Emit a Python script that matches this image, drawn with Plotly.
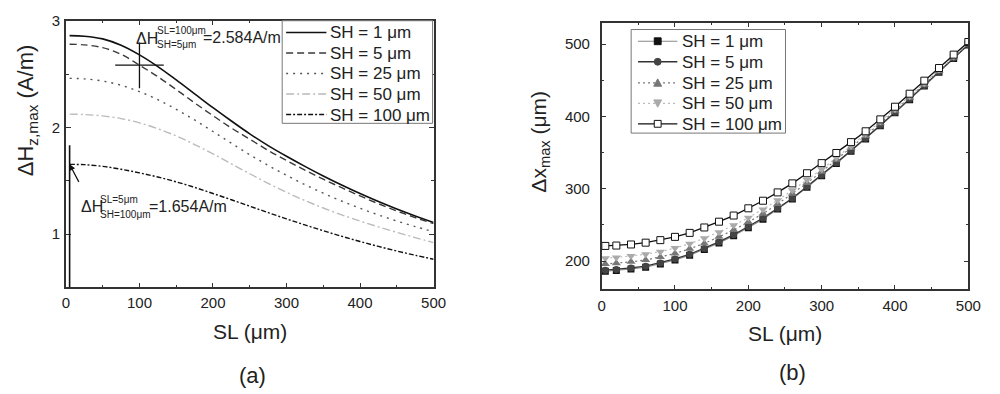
import plotly.graph_objects as go

FONT = "Liberation Sans, Arial, sans-serif"

# ---------------- Panel (a) data ----------------
sl_a = [5, 25, 50, 75, 100, 125, 150, 175, 200, 225, 250, 275, 300, 325, 350, 375, 400, 425, 450, 475, 500]
hz_sh1 = [2.86, 2.855, 2.83, 2.77, 2.68, 2.57, 2.445, 2.315, 2.185, 2.06, 1.94, 1.83, 1.73, 1.635, 1.545, 1.46, 1.38, 1.305, 1.235, 1.17, 1.11]
hz_sh5 = [2.78, 2.774, 2.748, 2.685, 2.584, 2.475, 2.355, 2.23, 2.11, 1.995, 1.89, 1.785, 1.69, 1.60, 1.515, 1.435, 1.358, 1.285, 1.217, 1.155, 1.098]
hz_sh25 = [2.46, 2.455, 2.435, 2.395, 2.335, 2.26, 2.17, 2.07, 1.962, 1.852, 1.744, 1.644, 1.551, 1.464, 1.384, 1.31, 1.242, 1.18, 1.123, 1.071, 1.023]
hz_sh50 = [2.125, 2.121, 2.108, 2.083, 2.043, 1.988, 1.92, 1.84, 1.752, 1.659, 1.566, 1.476, 1.392, 1.315, 1.245, 1.181, 1.122, 1.068, 1.017, 0.968, 0.92]
hz_sh100 = [1.654, 1.651, 1.635, 1.608, 1.574, 1.535, 1.49, 1.438, 1.381, 1.322, 1.262, 1.202, 1.143, 1.086, 1.032, 0.98, 0.931, 0.885, 0.842, 0.802, 0.765]

# ---------------- Panel (b) data ----------------
sl_b = [5, 20, 40, 60, 80, 100, 120, 140, 160, 180, 200, 220, 240, 260, 280, 300, 320, 340, 360, 380, 400, 420, 440, 460, 480, 500]
dx_sh1 = [186, 187, 189, 191.5, 196, 201.5, 208, 216, 225, 235, 246, 258, 272, 286, 302, 318, 335, 352, 369, 387, 405, 423, 442, 461, 480, 499]
dx_sh5 = [187.5, 188.5, 190.5, 193, 197.5, 203, 209.5, 217.5, 226.5, 236.5, 247.5, 259.5, 273, 287, 303, 319, 336, 353, 370, 388, 406, 424, 443, 462, 481, 499.5]
dx_sh25 = [196, 197, 199, 201.5, 205.5, 210.5, 217, 224.5, 233.5, 243, 254, 265.5, 279, 293, 308, 323.5, 340, 356.5, 373, 390.5, 408, 426, 444, 463, 481.5, 500.5]
dx_sh50 = [204, 205, 207, 209.5, 213, 218, 224, 231.5, 240, 249.5, 260, 271.5, 284, 298, 312.5, 327, 343, 359, 376, 393, 410, 428, 446, 464.5, 483, 501.5]
dx_sh100 = [221, 221.5, 223, 225.5, 229, 233.5, 239, 246.5, 254.5, 263, 273, 283.5, 295, 307.5, 321.5, 335.5, 349.5, 364.5, 379.5, 396, 413.5, 431.5, 449.5, 467, 485.5, 503]

names = ["SH = 1 μm", "SH = 5 μm", "SH = 25 μm", "SH = 50 μm", "SH = 100 μm"]

# annotated points in panel (a)
mark1 = (100, 2.584)
mark2 = (5, 1.654)

W, H = 1000, 394
def px(xp):
    return xp / W
def py(yp):
    return 1 - yp / H

fig = go.Figure()

a_series = [hz_sh1, hz_sh5, hz_sh25, hz_sh50, hz_sh100]
a_styles = [
    dict(color="#111111", width=1.6, dash="solid"),
    dict(color="#3a3a3a", width=1.4, dash="7px,4px"),
    dict(color="#555555", width=1.4, dash="2px,5px"),
    dict(color="#bbbbbb", width=1.4, dash="8px,3px,2px,3px"),
    dict(color="#111111", width=1.4, dash="5px,2px,2px,2px"),
]
for nm, ys, st in zip(names, a_series, a_styles):
    fig.add_trace(go.Scatter(x=sl_a, y=ys, mode="lines", name=nm, line=dict(shape="spline", **st),
                             xaxis="x", yaxis="y", showlegend=False))

b_series = [dx_sh1, dx_sh5, dx_sh25, dx_sh50, dx_sh100]
b_styles = [
    (dict(color="#888888", width=1.1), dict(symbol="square", size=7, color="#111111")),
    (dict(color="#333333", width=1.3), dict(symbol="circle", size=7, color="#444444")),
    (dict(color="#777777", width=1.2, dash="2px,3px"), dict(symbol="triangle-up", size=8, color="#777777")),
    (dict(color="#bbbbbb", width=1.2, dash="2px,3px"), dict(symbol="triangle-down", size=8, color="#aaaaaa")),
    (dict(color="#111111", width=1.3), dict(symbol="square", size=7, color="white", line=dict(color="#111111", width=1))),
]
for nm, ys, (ln, mk) in zip(names, b_series, b_styles):
    fig.add_trace(go.Scatter(x=sl_b, y=ys, mode="lines+markers", name=nm, line=ln, marker=mk,
                             xaxis="x2", yaxis="y2", showlegend=False))

axis_common = dict(
    showline=True, linecolor="#333333", linewidth=1.5, mirror="allticks",
    ticks="inside", ticklen=5, tickwidth=1.2, tickcolor="#333333",
    showgrid=False, zeroline=False,
    tickfont=dict(family=FONT, size=15, color="#222222"),
)

fig.update_layout(
    width=W, height=H,
    margin=dict(l=0, r=0, t=0, b=0),
    paper_bgcolor="white", plot_bgcolor="white",
    font=dict(family=FONT, color="#222222"),
    showlegend=False,
    xaxis=dict(domain=[px(63), px(437)], range=[0, 500], dtick=100, anchor="y",
               minor=dict(dtick=50, ticks="inside", ticklen=3, tickcolor="#333333"),
               ticklabelstandoff=1, **axis_common),
    yaxis=dict(domain=[py(285), py(12)], range=[0.5, 3.0], dtick=1, anchor="x",
               minor=dict(dtick=0.5, ticks="inside", ticklen=3, tickcolor="#333333"),
               ticklabelstandoff=1, **axis_common),
    xaxis2=dict(domain=[px(608), px(981)], range=[0, 500], dtick=100, anchor="y2",
                minor=dict(dtick=50, ticks="inside", ticklen=3, tickcolor="#333333"),
                ticklabelstandoff=2, **axis_common),
    yaxis2=dict(domain=[py(287), py(14)], range=[160.8, 529.7], dtick=100, anchor="x2",
                minor=dict(dtick=50, ticks="inside", ticklen=3, tickcolor="#333333"),
                ticklabelstandoff=7, **axis_common),
)

shapes = [
    # crosshair at mark1
    dict(type="line", xref="x", yref="y", x0=mark1[0] - 33, x1=mark1[0] + 33, y0=mark1[1], y1=mark1[1],
         line=dict(color="#111111", width=1.3)),
    dict(type="line", xref="x", yref="y", x0=mark1[0], x1=mark1[0], y0=mark1[1] - 0.217, y1=mark1[1] + 0.211,
         line=dict(color="#111111", width=1.3)),
    # vertical marker line at mark2
    dict(type="line", xref="x", yref="y", x0=mark2[0], x1=mark2[0], y0=0.5, y1=mark2[1] + 0.18,
         line=dict(color="#111111", width=1.6)),
]

annotations = []

def txt(x, y, s, size, xanchor="left"):
    return dict(xref="paper", yref="paper", x=px(x), y=py(y), text=s, showarrow=False,
                xanchor=xanchor, yanchor="middle", font=dict(family=FONT, size=size, color="#222222"))

# ---------- custom legend (a) ----------
shapes.append(dict(type="rect", xref="paper", yref="paper", x0=px(283), x1=px(436), y0=py(117), y1=py(12),
                   line=dict(color="#777777", width=1), fillcolor="white", layer="above"))
rows_a = [24, 45, 66, 87, 108]
for nm, st, ry in zip(names, a_styles, rows_a):
    shapes.append(dict(type="line", xref="paper", yref="paper", x0=px(287), x1=px(328), y0=py(ry), y1=py(ry),
                       line=dict(color=st["color"], width=st["width"], dash=st["dash"]), layer="above"))
    annotations.append(txt(330, ry + 0.5, nm, 17))

# ---------- custom legend (b) ----------
shapes.append(dict(type="rect", xref="paper", yref="paper", x0=px(638), x1=px(795), y0=py(127), y1=py(21),
                   line=dict(color="#777777", width=1), fillcolor="white", layer="above"))
rows_b = [33, 54, 75.5, 96.5, 117.5]
for nm, (ln, mk), ry in zip(names, b_styles, rows_b):
    shapes.append(dict(type="line", xref="paper", yref="paper", x0=px(645), x1=px(685), y0=py(ry), y1=py(ry),
                       line=dict(color=ln["color"], width=ln["width"], dash=ln.get("dash", "solid")), layer="above"))
    cx, cy = 665, ry
    sym = mk["symbol"]
    fill = mk["color"]
    edge = mk.get("line", {}).get("color", fill)
    if sym == "square":
        shapes.append(dict(type="rect", xref="paper", yref="paper", x0=px(cx - 3.5), x1=px(cx + 3.5),
                           y0=py(cy + 3.5), y1=py(cy - 3.5), fillcolor=fill, line=dict(color=edge, width=1),
                           layer="above"))
    elif sym == "circle":
        shapes.append(dict(type="circle", xref="paper", yref="paper", x0=px(cx - 3.5), x1=px(cx + 3.5),
                           y0=py(cy + 3.5), y1=py(cy - 3.5), fillcolor=fill, line=dict(color=edge, width=1),
                           layer="above"))
    else:
        if sym == "triangle-up":
            pts = [(cx - 4, cy + 3.5), (cx + 4, cy + 3.5), (cx, cy - 4)]
        else:
            pts = [(cx - 4, cy - 3.5), (cx + 4, cy - 3.5), (cx, cy + 4)]
        path = "M " + " L ".join(f"{px(a):.5f},{py(b):.5f}" for a, b in pts) + " Z"
        shapes.append(dict(type="path", xref="paper", yref="paper", path=path, fillcolor=fill,
                           line=dict(color=edge, width=1), layer="above"))
    annotations.append(txt(688, ry + 0.5, nm, 17))

annotations += [
    # annotation 1
    txt(132, 30, "ΔH", 16),
    txt(154, 22.5, "SL=100μm", 10),
    txt(154, 36, "SH=5μm", 10),
    txt(200.5, 29.5, "=2.584A/m", 16),
    # annotation 2
    txt(76, 202, "ΔH", 16),
    txt(96, 194.5, "SL=5μm", 10),
    txt(96, 210, "SH=100μm", 10),
    txt(145.5, 202, "=1.654A/m", 16),
    # arrow to mark2
    dict(xref="x", yref="y", x=mark2[0], y=mark2[1], ax=10, ay=19, text="", showarrow=True,
         arrowhead=2, arrowsize=1, arrowwidth=1.2, arrowcolor="#111111"),
    # axis titles
    txt(250, 330, "SL (μm)", 21, xanchor="center"),
    txt(795, 332, "SL (μm)", 21, xanchor="center"),
    dict(xref="paper", yref="paper", x=px(23), y=py(104), text="ΔH<sub>z,max</sub> (A/m)", showarrow=False,
         textangle=-90, xanchor="center", yanchor="middle", font=dict(family=FONT, size=22, color="#222222")),
    dict(xref="paper", yref="paper", x=px(545), y=py(136), text="Δx<sub>max</sub> (μm)", showarrow=False,
         textangle=-90, xanchor="center", yanchor="middle", font=dict(family=FONT, size=21, color="#222222")),
    # panel labels
    txt(253, 375, "(a)", 22, xanchor="center"),
    txt(802, 372, "(b)", 22, xanchor="center"),
]

fig.update_layout(shapes=shapes, annotations=annotations)

fig.write_html("out.html", config={"displayModeBar": False},
               post_script="document.body.style.margin='0';")
